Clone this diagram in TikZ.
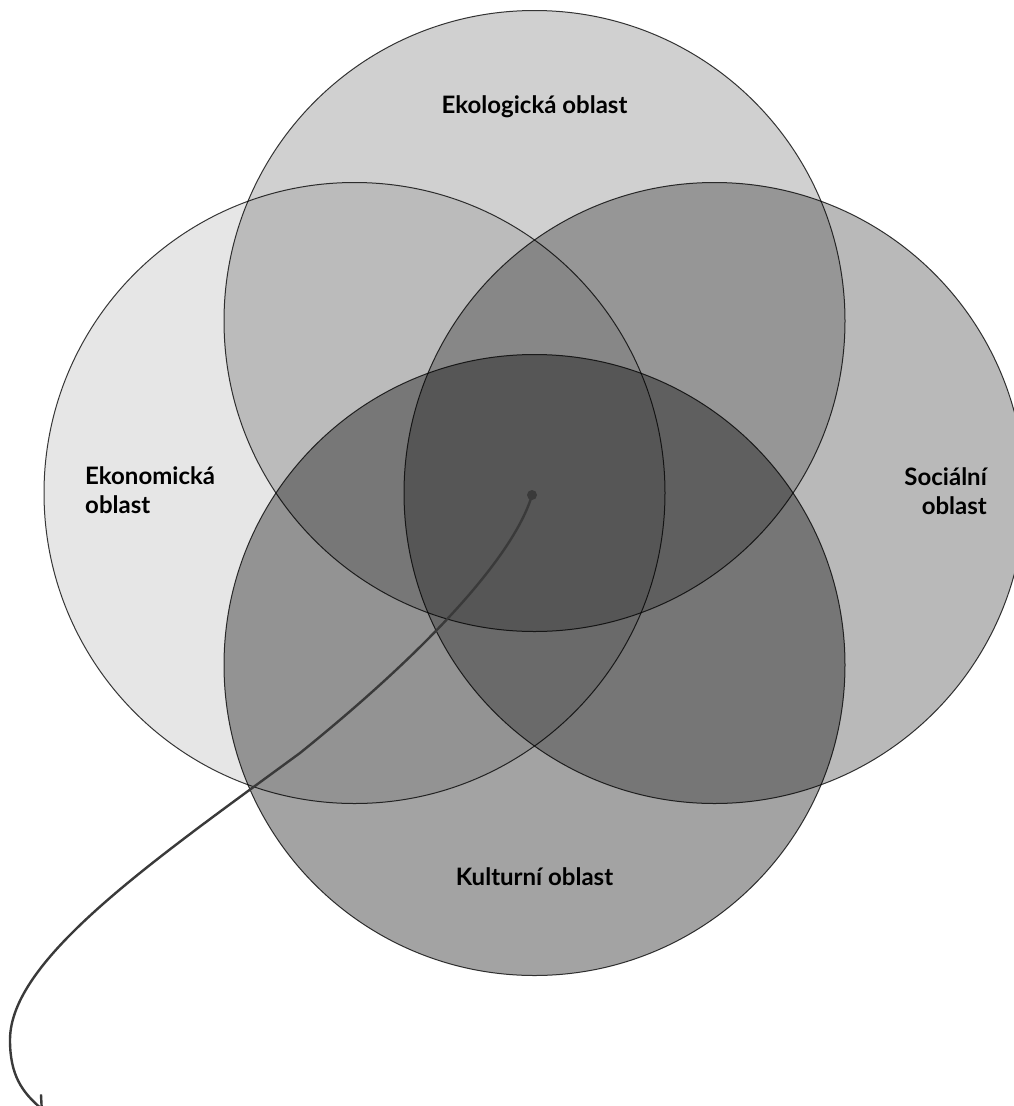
\documentclass[tikz,border=0pt]{standalone}
\usepackage{fontspec}
\setmainfont{Lato}
\usetikzlibrary{arrows.meta}
\definecolor{cLeft}{HTML}{E6E6E6}
\definecolor{cTop}{HTML}{D0D0D0}
\definecolor{cRight}{HTML}{B9B9B9}
\definecolor{cBottom}{HTML}{A3A3A3}
\definecolor{cLine}{HTML}{3A3A3A}
\tikzset{
  venn/.style={circle, draw=cLine, line width=1pt, minimum size=621pt, inner sep=0pt, outer sep=0pt},
  lbl/.style={font=\bfseries\fontsize{24}{29}\selectfont, inner sep=0pt, text=black},
  conn/.style={draw=cLine, line width=2.4pt, -{Straight Barb[length=10pt,width=21pt,line width=2.4pt]}},
  dotnode/.style={circle, fill=cLine, inner sep=0pt, minimum size=10pt}
}
\begin{document}
\begin{tikzpicture}[x=1pt,y=-1pt]
\fill[white] (0,0) rectangle (1014,1106);
\useasboundingbox (0,0) rectangle (1014,1106);
\begin{scope}[blend mode=multiply]
  \node[venn, fill=cLeft]   (eko)  at (354.5,493) {};
  \node[venn, fill=cTop]    (ekol) at (534.5,321) {};
  \node[venn, fill=cRight]  (soc)  at (714.5,493) {};
  \node[venn, fill=cBottom] (kul)  at (534.5,665) {};
\end{scope}
\node[lbl, anchor=base] (tEkol) at (534.5,113) {Ekologická oblast};
\node[lbl, anchor=base] (tKul) at (534.5,885) {Kulturní oblast};
\node[lbl, anchor=base west, align=left] (tEko) at (85,513) {Ekonomická\\oblast};
\node[lbl, anchor=base east, align=right] (tSoc) at (987,514) {Sociální\\oblast};
\node[dotnode] (dot) at (532,495) {};
\coordinate (end) at (43,1110);
\draw[conn] (dot.center) .. controls (516,550) and (440,640) .. (300,753)
  .. controls (150,863) and (10,960) .. (10,1040)
  .. controls (10,1075) and (22,1092) .. (end);
\end{tikzpicture}
\end{document}
